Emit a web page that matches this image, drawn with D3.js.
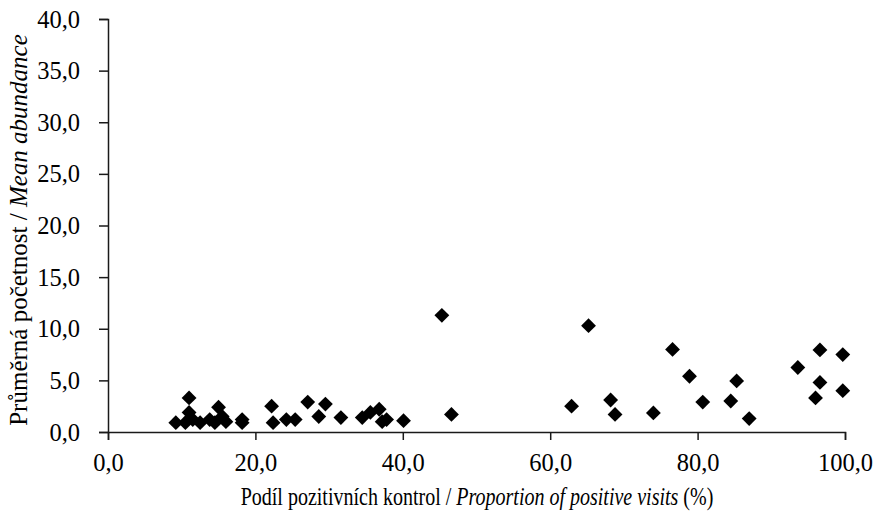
<!DOCTYPE html>
<html>
<head>
<meta charset="utf-8">
<script src="https://cdn.jsdelivr.net/npm/d3@7"></script>
<style>
  body { margin: 0; background: #fff; }
</style>
</head>
<body>
<div id="chart"></div>
<script>
// proportion of positive visits (%) and mean abundance
const propPositive = [
  9.2, 10.5, 11.0, 11.0, 11.5, 12.5, 13.8, 14.5, 15.0, 15.5, 16.0, 18.2, 18.2,
  22.2, 22.4, 24.2, 25.4, 27.1, 28.6, 29.5, 31.6, 34.5, 35.6, 36.8, 37.2, 37.8, 40.1,
  45.3, 46.6,
  62.9, 65.2, 68.2, 68.8, 74.0, 76.6, 78.9, 80.7, 84.5, 85.3, 87.0,
  93.6, 96.0, 96.6, 96.6, 99.7, 99.7
];
const meanAbundance = [
  0.9, 0.9, 3.3, 1.9, 1.2, 0.9, 1.2, 0.9, 2.4, 1.5, 1.0, 1.2, 0.9,
  2.5, 0.9, 1.2, 1.2, 2.9, 1.5, 2.7, 1.4, 1.4, 1.9, 2.2, 1.0, 1.2, 1.1,
  11.3, 1.7,
  2.5, 10.3, 3.1, 1.7, 1.85, 8.0, 5.4, 2.9, 3.0, 4.95, 1.3,
  6.25, 3.3, 7.95, 4.8, 7.5, 4.0
];
const xTicks = [0, 20, 40, 60, 80, 100];
const yTicks = [0, 5, 10, 15, 20, 25, 30, 35, 40];

const width = 877, height = 515;
const margin = {top: 19, right: 32, bottom: 83, left: 108};
const innerW = width - margin.left - margin.right;
const innerH = height - margin.top - margin.bottom;
const serif = '"Liberation Serif", "Times New Roman", serif';

const fmt = (v) => v.toFixed(1).replace('.', ',');

const svg = d3.select('#chart').append('svg')
    .attr('width', width)
    .attr('height', height)
    .style('font-family', serif);
const g = svg.append('g')
    .attr('transform', 'translate(' + margin.left + ',' + margin.top + ')');

const scaleX = d3.scaleLinear().domain([0, 100]).range([0, innerW]);
const scaleY = d3.scaleLinear().domain([0, 40]).range([innerH, 0]);

// axes
const xAxis = g.append('g')
    .attr('transform', 'translate(0,' + innerH + ')')
    .call(d3.axisBottom(scaleX).tickValues(xTicks).tickFormat(fmt).tickSize(8));
const yAxis = g.append('g')
    .call(d3.axisLeft(scaleY).tickValues(yTicks).tickFormat(fmt).tickSize(9));
[xAxis, yAxis].forEach((ax) => {
  ax.attr('font-family', null).attr('font-size', null);
  ax.select('.domain').attr('stroke', '#1a1a1a').attr('stroke-width', 1.5);
  ax.selectAll('.tick line').attr('stroke', '#1a1a1a').attr('stroke-width', 1.5);
  ax.selectAll('.tick text')
      .style('font-family', serif)
      .style('font-size', '24.5px')
      .attr('fill', '#000');
});
xAxis.selectAll('.tick text').attr('y', 39).attr('dy', 0);
yAxis.selectAll('.tick text').attr('x', -28).attr('dy', '0.33em');

// diamond markers
const diamond = d3.symbol().type(d3.symbolSquare).size(110);
g.selectAll('.pt')
    .data(propPositive.map((x, i) => [x, meanAbundance[i]]))
    .enter().append('path')
    .attr('class', 'pt')
    .attr('d', diamond)
    .attr('fill', '#000')
    .attr('transform', (d) => 'translate(' + scaleX(d[0]) + ',' + scaleY(d[1]) + ') rotate(45)');

// axis titles (x title is set narrow, as in the original)
const xTitle = svg.append('g')
    .attr('transform', 'translate(477,505) scale(0.77,1)')
    .append('text')
    .attr('text-anchor', 'middle')
    .style('font-size', '26px');
xTitle.append('tspan').text('Podíl pozitivních kontrol / ');
xTitle.append('tspan').style('font-style', 'italic').text('Proportion of positive visits');
xTitle.append('tspan').text(' (%)');

const yTitle = svg.append('text')
    .attr('transform', 'translate(27,' + 230 + ') rotate(-90)')
    .attr('text-anchor', 'middle')
    .style('font-size', '25px');
yTitle.append('tspan').text('Průměrná početnost / ');
yTitle.append('tspan').style('font-style', 'italic').text('Mean abundance');
</script>
</body>
</html>
